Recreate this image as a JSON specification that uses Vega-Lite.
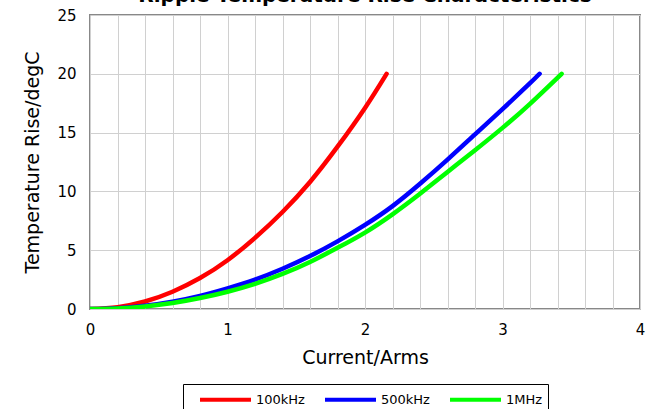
{
  "$schema": "https://vega.github.io/schema/vega-lite/v6.json",
  "width": 550,
  "height": 294,
  "autosize": {"type": "none"},
  "padding": {"left": 90, "top": 15, "right": 25, "bottom": 100},
  "background": "white",
  "config": {
    "font": "DejaVu Sans",
    "view": {"stroke": "#888888", "strokeWidth": 2},
    "axis": {"labelFont": "DejaVu Sans", "titleFont": "DejaVu Sans", "labelColor": "#000000", "titleColor": "#000000", "titleFontWeight": "normal"}
  },
  "title": {
    "text": "Ripple Temperature Rise Characteristics",
    "font": "DejaVu Sans",
    "fontSize": 20,
    "fontWeight": "bold",
    "color": "#000000",
    "anchor": "middle",
    "baseline": "bottom",
    "offset": -18
  },
  "data": {
    "values": [
      {"series": "100kHz", "I": 0, "T": 0},
      {"series": "100kHz", "I": 0.2, "T": 0.16},
      {"series": "100kHz", "I": 0.4, "T": 0.64},
      {"series": "100kHz", "I": 0.6, "T": 1.47},
      {"series": "100kHz", "I": 0.8, "T": 2.63},
      {"series": "100kHz", "I": 1.0, "T": 4.15},
      {"series": "100kHz", "I": 1.2, "T": 6.05},
      {"series": "100kHz", "I": 1.4, "T": 8.25},
      {"series": "100kHz", "I": 1.6, "T": 10.8},
      {"series": "100kHz", "I": 1.8, "T": 13.8},
      {"series": "100kHz", "I": 2.0, "T": 17.1},
      {"series": "100kHz", "I": 2.157, "T": 20},
      {"series": "500kHz", "I": 0, "T": 0},
      {"series": "500kHz", "I": 0.2, "T": 0.07},
      {"series": "500kHz", "I": 0.4, "T": 0.28},
      {"series": "500kHz", "I": 0.6, "T": 0.63},
      {"series": "500kHz", "I": 0.8, "T": 1.12},
      {"series": "500kHz", "I": 1.0, "T": 1.76},
      {"series": "500kHz", "I": 1.2, "T": 2.5},
      {"series": "500kHz", "I": 1.4, "T": 3.42},
      {"series": "500kHz", "I": 1.6, "T": 4.5},
      {"series": "500kHz", "I": 1.8, "T": 5.75},
      {"series": "500kHz", "I": 2.0, "T": 7.15},
      {"series": "500kHz", "I": 2.2, "T": 8.75},
      {"series": "500kHz", "I": 2.4, "T": 10.65},
      {"series": "500kHz", "I": 2.6, "T": 12.7},
      {"series": "500kHz", "I": 2.8, "T": 14.85},
      {"series": "500kHz", "I": 3.0, "T": 17.0},
      {"series": "500kHz", "I": 3.2, "T": 19.2},
      {"series": "500kHz", "I": 3.27, "T": 20},
      {"series": "1MHz", "I": 0, "T": 0},
      {"series": "1MHz", "I": 0.2, "T": 0.05},
      {"series": "1MHz", "I": 0.4, "T": 0.22},
      {"series": "1MHz", "I": 0.6, "T": 0.51},
      {"series": "1MHz", "I": 0.8, "T": 0.93},
      {"series": "1MHz", "I": 1.0, "T": 1.47},
      {"series": "1MHz", "I": 1.2, "T": 2.14},
      {"series": "1MHz", "I": 1.4, "T": 2.98},
      {"series": "1MHz", "I": 1.6, "T": 4.0},
      {"series": "1MHz", "I": 1.8, "T": 5.2},
      {"series": "1MHz", "I": 2.0, "T": 6.5},
      {"series": "1MHz", "I": 2.2, "T": 8.05},
      {"series": "1MHz", "I": 2.4, "T": 9.8},
      {"series": "1MHz", "I": 2.6, "T": 11.65},
      {"series": "1MHz", "I": 2.8, "T": 13.5},
      {"series": "1MHz", "I": 3.0, "T": 15.4},
      {"series": "1MHz", "I": 3.2, "T": 17.45},
      {"series": "1MHz", "I": 3.43, "T": 20}
    ]
  },
  "mark": {"type": "line", "strokeWidth": 4.5, "strokeCap": "round", "strokeJoin": "round", "interpolate": "natural", "clip": true},
  "encoding": {
    "x": {
      "field": "I",
      "type": "quantitative",
      "scale": {"domain": [0, 4], "nice": false, "zero": true},
      "axis": {
        "title": "Current/Arms",
        "titleFontSize": 19,
        "titlePadding": 11,
        "labelFontSize": 15,
        "labelPadding": 13,
        "values": [0, 0.2, 0.4, 0.6, 0.8, 1, 1.2, 1.4, 1.6, 1.8, 2, 2.2, 2.4, 2.6, 2.8, 3, 3.2, 3.4, 3.6, 3.8, 4],
        "labelExpr": "abs(datum.value - round(datum.value)) < 0.001 ? format(datum.value, 'd') : ''",
        "grid": true,
        "gridColor": "#d0d0d0",
        "gridWidth": 1,
        "ticks": false,
        "domain": false,
        "labelFlush": false,
        "labelOverlap": false
      }
    },
    "y": {
      "field": "T",
      "type": "quantitative",
      "scale": {"domain": [0, 25], "nice": false},
      "axis": {
        "title": "Temperature Rise/degC",
        "titleFontSize": 19,
        "titlePadding": 14,
        "labelFontSize": 15,
        "labelPadding": 14,
        "values": [0, 5, 10, 15, 20, 25],
        "grid": true,
        "gridColor": "#d0d0d0",
        "gridWidth": 1,
        "ticks": false,
        "domain": false,
        "labelFlush": false
      }
    },
    "color": {
      "field": "series",
      "type": "nominal",
      "sort": ["100kHz", "500kHz", "1MHz"],
      "scale": {"domain": ["100kHz", "500kHz", "1MHz"], "range": ["#FF0000", "#0000FF", "#00FF00"]},
      "legend": {
        "title": null,
        "orient": "none",
        "legendX": 93,
        "legendY": 369,
        "direction": "horizontal",
        "columns": 3,
        "symbolType": "M-3,0L3,0",
        "symbolSize": 289,
        "symbolStrokeWidth": 4,
        "symbolFillColor": "transparent",
        "labelFontSize": 13,
        "labelFont": "DejaVu Sans",
        "labelColor": "#000000",
        "symbolOffset": 27,
        "labelOffset": 20,
        "columnPadding": 8,
        "padding": 5,
        "strokeColor": "#000000",
        "fillColor": "#ffffff"
      }
    }
  }
}
